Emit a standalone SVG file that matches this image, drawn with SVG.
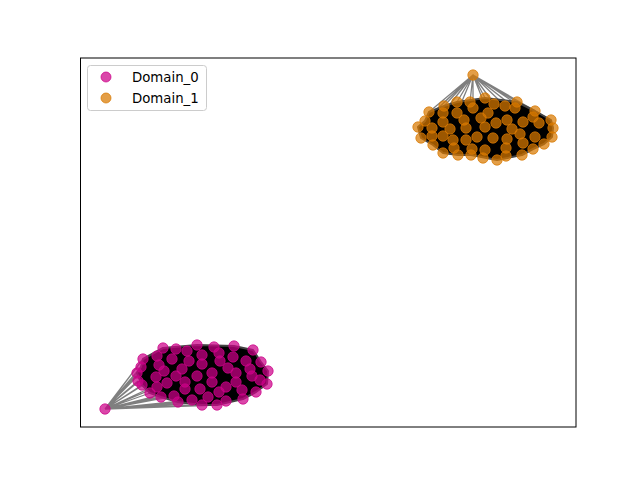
<svg xmlns="http://www.w3.org/2000/svg" width="640" height="480" viewBox="0 0 640 480">
<style>
.d0{fill:#CC0088;fill-opacity:0.72;stroke:#CC0088;stroke-opacity:0.72;stroke-width:1}
.d1{fill:#D87800;fill-opacity:0.72;stroke:#D87800;stroke-opacity:0.72;stroke-width:1}
.e{stroke:#000;stroke-opacity:0.5;stroke-width:1.3;fill:none}
.blob{fill:#000;stroke:#444;stroke-width:2;stroke-linejoin:round}
.t{font-family:"DejaVu Sans",sans-serif;font-size:13.3px;fill:#000}
</style>
<rect width="640" height="480" fill="#fff"/>
<g id="connectors">
<g id="edges-domain0">
<path class="e" d="M105,409L163,348M105,409L143,359M105,409L157,356M105,409L141,367M105,409L137,373M105,409L138,381M105,409L142,385M105,409L150,393M105,409L161,397M105,409L174,396M105,409L178,402M105,409L192,400M105,409L202,405M105,409L217,405M105,409L159,365M105,409L156,377M105,409L157,387M105,409L164,371M105,409L167,383M105,409L176,376M105,409L185,389M105,409L226,401M105,409L243,399"/>
<path class="blob" d="M163,348L197,345L234,346L253,350L261,362L268,371L267,384L256,392L243,399L217,405L202,405L178,402L161,397L150,393L142,385L137,373L141,367L143,359Z"/>
</g>
<g id="edges-domain1">
<path class="e" d="M473,75L444,106M473,75L457,102M473,75L470,102M473,75L485,98M473,75L494,104M473,75L505,106M473,75L517,102M473,75L429,112M473,75L443,113M473,75L457,113M473,75L473,108M473,75L488,113M473,75L515,108M473,75L535,111M473,75L425,121M473,75L551,120M473,75L418,127M473,75L553,128"/>
<path class="blob" d="M429,112L444,106L457,102L485,98L517,102L535,111L551,120L553,128L552,137L544,144L533,149L522,155L497,160L471,155L458,155L443,153L433,145L421,138L418,127L425,121Z"/>
</g>
</g>
<g id="domain0">
<circle id="n0_0" class="d0" r="5.2" cx="105" cy="409"/>
<circle id="n0_1" class="d0" r="5.2" cx="163" cy="348"/>
<circle id="n0_2" class="d0" r="5.2" cx="176" cy="349"/>
<circle id="n0_3" class="d0" r="5.2" cx="197" cy="345"/>
<circle id="n0_4" class="d0" r="5.2" cx="214" cy="347"/>
<circle id="n0_5" class="d0" r="5.2" cx="234" cy="346"/>
<circle id="n0_6" class="d0" r="5.2" cx="253" cy="350"/>
<circle id="n0_7" class="d0" r="5.2" cx="143" cy="359"/>
<circle id="n0_8" class="d0" r="5.2" cx="157" cy="356"/>
<circle id="n0_9" class="d0" r="5.2" cx="172" cy="359"/>
<circle id="n0_10" class="d0" r="5.2" cx="187" cy="351"/>
<circle id="n0_11" class="d0" r="5.2" cx="189" cy="361"/>
<circle id="n0_12" class="d0" r="5.2" cx="202" cy="355"/>
<circle id="n0_13" class="d0" r="5.2" cx="202" cy="364"/>
<circle id="n0_14" class="d0" r="5.2" cx="219" cy="353"/>
<circle id="n0_15" class="d0" r="5.2" cx="220" cy="361"/>
<circle id="n0_16" class="d0" r="5.2" cx="233" cy="357"/>
<circle id="n0_17" class="d0" r="5.2" cx="246" cy="361"/>
<circle id="n0_18" class="d0" r="5.2" cx="261" cy="362"/>
<circle id="n0_19" class="d0" r="5.2" cx="268" cy="371"/>
<circle id="n0_20" class="d0" r="5.2" cx="141" cy="367"/>
<circle id="n0_21" class="d0" r="5.2" cx="159" cy="365"/>
<circle id="n0_22" class="d0" r="5.2" cx="164" cy="371"/>
<circle id="n0_23" class="d0" r="5.2" cx="182" cy="369"/>
<circle id="n0_24" class="d0" r="5.2" cx="197" cy="376"/>
<circle id="n0_25" class="d0" r="5.2" cx="212" cy="373"/>
<circle id="n0_26" class="d0" r="5.2" cx="228" cy="368"/>
<circle id="n0_27" class="d0" r="5.2" cx="236" cy="373"/>
<circle id="n0_28" class="d0" r="5.2" cx="250" cy="369"/>
<circle id="n0_29" class="d0" r="5.2" cx="252" cy="376"/>
<circle id="n0_30" class="d0" r="5.2" cx="137" cy="373"/>
<circle id="n0_31" class="d0" r="5.2" cx="138" cy="381"/>
<circle id="n0_32" class="d0" r="5.2" cx="156" cy="377"/>
<circle id="n0_33" class="d0" r="5.2" cx="176" cy="376"/>
<circle id="n0_34" class="d0" r="5.2" cx="185" cy="382"/>
<circle id="n0_35" class="d0" r="5.2" cx="212" cy="382"/>
<circle id="n0_36" class="d0" r="5.2" cx="236" cy="382"/>
<circle id="n0_37" class="d0" r="5.2" cx="260" cy="380"/>
<circle id="n0_38" class="d0" r="5.2" cx="267" cy="384"/>
<circle id="n0_39" class="d0" r="5.2" cx="142" cy="385"/>
<circle id="n0_40" class="d0" r="5.2" cx="157" cy="387"/>
<circle id="n0_41" class="d0" r="5.2" cx="167" cy="383"/>
<circle id="n0_42" class="d0" r="5.2" cx="185" cy="389"/>
<circle id="n0_43" class="d0" r="5.2" cx="200" cy="389"/>
<circle id="n0_44" class="d0" r="5.2" cx="219" cy="392"/>
<circle id="n0_45" class="d0" r="5.2" cx="226" cy="387"/>
<circle id="n0_46" class="d0" r="5.2" cx="242" cy="390"/>
<circle id="n0_47" class="d0" r="5.2" cx="256" cy="392"/>
<circle id="n0_48" class="d0" r="5.2" cx="150" cy="393"/>
<circle id="n0_49" class="d0" r="5.2" cx="161" cy="397"/>
<circle id="n0_50" class="d0" r="5.2" cx="174" cy="396"/>
<circle id="n0_51" class="d0" r="5.2" cx="178" cy="402"/>
<circle id="n0_52" class="d0" r="5.2" cx="192" cy="400"/>
<circle id="n0_53" class="d0" r="5.2" cx="202" cy="405"/>
<circle id="n0_54" class="d0" r="5.2" cx="208" cy="397"/>
<circle id="n0_55" class="d0" r="5.2" cx="217" cy="405"/>
<circle id="n0_56" class="d0" r="5.2" cx="226" cy="401"/>
<circle id="n0_57" class="d0" r="5.2" cx="243" cy="399"/>
</g>
<g id="domain1">
<circle id="n1_0" class="d1" r="5.2" cx="473" cy="75"/>
<circle id="n1_1" class="d1" r="5.2" cx="444" cy="106"/>
<circle id="n1_2" class="d1" r="5.2" cx="457" cy="102"/>
<circle id="n1_3" class="d1" r="5.2" cx="470" cy="102"/>
<circle id="n1_4" class="d1" r="5.2" cx="485" cy="98"/>
<circle id="n1_5" class="d1" r="5.2" cx="494" cy="104"/>
<circle id="n1_6" class="d1" r="5.2" cx="505" cy="106"/>
<circle id="n1_7" class="d1" r="5.2" cx="517" cy="102"/>
<circle id="n1_8" class="d1" r="5.2" cx="429" cy="112"/>
<circle id="n1_9" class="d1" r="5.2" cx="443" cy="113"/>
<circle id="n1_10" class="d1" r="5.2" cx="457" cy="113"/>
<circle id="n1_11" class="d1" r="5.2" cx="473" cy="108"/>
<circle id="n1_12" class="d1" r="5.2" cx="488" cy="113"/>
<circle id="n1_13" class="d1" r="5.2" cx="515" cy="108"/>
<circle id="n1_14" class="d1" r="5.2" cx="535" cy="111"/>
<circle id="n1_15" class="d1" r="5.2" cx="425" cy="121"/>
<circle id="n1_16" class="d1" r="5.2" cx="443" cy="122"/>
<circle id="n1_17" class="d1" r="5.2" cx="464" cy="120"/>
<circle id="n1_18" class="d1" r="5.2" cx="481" cy="118"/>
<circle id="n1_19" class="d1" r="5.2" cx="496" cy="123"/>
<circle id="n1_20" class="d1" r="5.2" cx="507" cy="120"/>
<circle id="n1_21" class="d1" r="5.2" cx="523" cy="122"/>
<circle id="n1_22" class="d1" r="5.2" cx="533" cy="117"/>
<circle id="n1_23" class="d1" r="5.2" cx="551" cy="120"/>
<circle id="n1_24" class="d1" r="5.2" cx="418" cy="127"/>
<circle id="n1_25" class="d1" r="5.2" cx="432" cy="128"/>
<circle id="n1_26" class="d1" r="5.2" cx="450" cy="129"/>
<circle id="n1_27" class="d1" r="5.2" cx="466" cy="128"/>
<circle id="n1_28" class="d1" r="5.2" cx="485" cy="127"/>
<circle id="n1_29" class="d1" r="5.2" cx="512" cy="129"/>
<circle id="n1_30" class="d1" r="5.2" cx="539" cy="123"/>
<circle id="n1_31" class="d1" r="5.2" cx="553" cy="128"/>
<circle id="n1_32" class="d1" r="5.2" cx="421" cy="138"/>
<circle id="n1_33" class="d1" r="5.2" cx="432" cy="136"/>
<circle id="n1_34" class="d1" r="5.2" cx="443" cy="136"/>
<circle id="n1_35" class="d1" r="5.2" cx="453" cy="140"/>
<circle id="n1_36" class="d1" r="5.2" cx="466" cy="140"/>
<circle id="n1_37" class="d1" r="5.2" cx="477" cy="137"/>
<circle id="n1_38" class="d1" r="5.2" cx="493" cy="138"/>
<circle id="n1_39" class="d1" r="5.2" cx="507" cy="139"/>
<circle id="n1_40" class="d1" r="5.2" cx="520" cy="134"/>
<circle id="n1_41" class="d1" r="5.2" cx="535" cy="137"/>
<circle id="n1_42" class="d1" r="5.2" cx="552" cy="137"/>
<circle id="n1_43" class="d1" r="5.2" cx="433" cy="145"/>
<circle id="n1_44" class="d1" r="5.2" cx="454" cy="148"/>
<circle id="n1_45" class="d1" r="5.2" cx="472" cy="149"/>
<circle id="n1_46" class="d1" r="5.2" cx="485" cy="150"/>
<circle id="n1_47" class="d1" r="5.2" cx="506" cy="148"/>
<circle id="n1_48" class="d1" r="5.2" cx="523" cy="143"/>
<circle id="n1_49" class="d1" r="5.2" cx="544" cy="144"/>
<circle id="n1_50" class="d1" r="5.2" cx="443" cy="153"/>
<circle id="n1_51" class="d1" r="5.2" cx="458" cy="155"/>
<circle id="n1_52" class="d1" r="5.2" cx="471" cy="155"/>
<circle id="n1_53" class="d1" r="5.2" cx="483" cy="158"/>
<circle id="n1_54" class="d1" r="5.2" cx="497" cy="160"/>
<circle id="n1_55" class="d1" r="5.2" cx="506" cy="156"/>
<circle id="n1_56" class="d1" r="5.2" cx="522" cy="155"/>
<circle id="n1_57" class="d1" r="5.2" cx="533" cy="149"/>
</g>
<rect id="axes" x="80.5" y="58" width="495.5" height="369" fill="none" stroke="#000" stroke-width="1"/>
<g id="legend">
<rect x="87.5" y="65.5" width="119" height="45" rx="3" fill="#fff" fill-opacity="0.8" stroke="#ccc" stroke-width="1"/>
<circle class="d0" r="5" cx="106" cy="77"/>
<text class="t" x="132" y="82">Domain_0</text>
<circle class="d1" r="5" cx="106" cy="98"/>
<text class="t" x="132" y="103">Domain_1</text>
</g>
</svg>
